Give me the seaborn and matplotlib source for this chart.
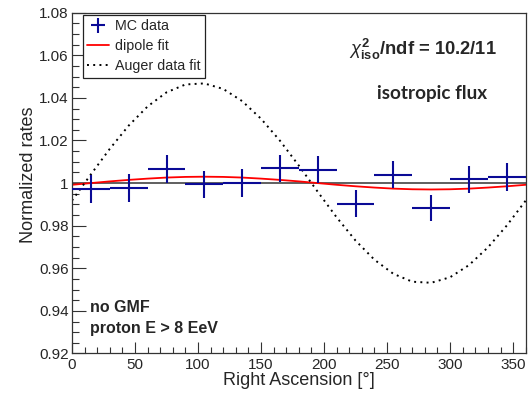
import numpy as np
import seaborn as sns
from matplotlib import pyplot as plt

# MC data: 12 bins of 30 deg in right ascension
ra_centers = [15, 45, 75, 105, 135, 165, 195, 225, 255, 285, 315, 345]
ra_halfwidth = [15] * 12
mc_rates = [0.9972, 0.9978, 1.0066, 0.9995, 1.0000, 1.0069,
            1.0062, 0.9904, 1.0040, 0.9883, 1.0017, 1.0028]
mc_errors = [0.0066, 0.0067, 0.0064, 0.0064, 0.0065, 0.0064,
             0.0063, 0.0063, 0.0063, 0.0063, 0.0065, 0.0064]

# fitted curves every 15 deg
ra_curve = [0, 15, 30, 45, 60, 75, 90, 105, 120, 135, 150, 165, 180,
            195, 210, 225, 240, 255, 270, 285, 300, 315, 330, 345, 360]
dipole_fit = [0.9992, 1.0000, 1.0008, 1.0015, 1.0021, 1.0026, 1.0029, 1.0030,
              1.0029, 1.0026, 1.0021, 1.0015, 1.0008, 1.0000, 0.9992, 0.9985,
              0.9979, 0.9974, 0.9971, 0.9970, 0.9971, 0.9974, 0.9979, 0.9985,
              0.9992]
auger_fit = [0.9918, 1.0041, 1.0161, 1.0270, 1.0360, 1.0426, 1.0463, 1.0468,
             1.0442, 1.0385, 1.0302, 1.0199, 1.0082, 0.9959, 0.9839, 0.9730,
             0.9640, 0.9574, 0.9537, 0.9532, 0.9558, 0.9615, 0.9698, 0.9801,
             0.9918]

sns.set_theme(style="ticks")
plt.rcParams['font.family'] = ['Liberation Sans', 'DejaVu Sans']
plt.rcParams['mathtext.fontset'] = 'custom'
plt.rcParams['mathtext.rm'] = 'Liberation Sans'
plt.rcParams['mathtext.it'] = 'Liberation Sans:italic'
plt.rcParams['mathtext.bf'] = 'Liberation Sans:bold'

fig = plt.figure(figsize=(5.29, 3.94), dpi=100)
ax = fig.add_axes([0.1361, 0.1028, 0.8577, 0.865])

ax.axhline(1.0, color='#444444', lw=1.2, zorder=1)

mc = ax.errorbar(ra_centers, mc_rates, xerr=ra_halfwidth, yerr=mc_errors,
                 fmt='none', ecolor='#0a0a96', elinewidth=1.5, capsize=0,
                 label='MC data', zorder=3)
sns.lineplot(x=ra_curve, y=dipole_fit, color='red', lw=1.3, ax=ax,
             label='dipole fit', zorder=2)
sns.lineplot(x=ra_curve, y=auger_fit, color='black', lw=1.4,
             linestyle=(0, (1, 2.2)), ax=ax, label='Auger data fit', zorder=2)

ax.set_xlim(0, 360)
ax.set_ylim(0.92, 1.08)
ax.set_xticks(np.arange(0, 351, 50))
ax.set_xticks(np.arange(0, 361, 10), minor=True)
ax.set_yticks(np.arange(0.92, 1.081, 0.02))
ax.set_yticks(np.arange(0.92, 1.081, 0.005), minor=True)
ax.set_yticklabels(['0.92', '0.94', '0.96', '0.98', '1', '1.02', '1.04', '1.06', '1.08'])

ax.tick_params(axis='both', which='both', direction='in', labelsize=11,
               top=False, right=False, color='#333333')
ax.tick_params(axis='y', which='major', length=10, width=0.8, pad=2.5)
ax.tick_params(axis='y', which='minor', length=5, width=0.8)
ax.tick_params(axis='x', which='major', length=8, width=0.8, pad=3)
ax.tick_params(axis='x', which='minor', length=4.5, width=0.8)
for sp in ax.spines.values():
    sp.set_color('#333333')
    sp.set_linewidth(0.9)

ax.set_xlabel('Right Ascension [°]', fontsize=13)
ax.set_ylabel('Normalized rates', fontsize=13)
ax.xaxis.set_label_coords(0.5, -0.055)
ax.yaxis.set_label_coords(-0.077, 0.524)

handles, labels = ax.get_legend_handles_labels()
order = [labels.index(l) for l in ['MC data', 'dipole fit', 'Auger data fit']]
leg = ax.legend([handles[i] for i in order], [labels[i] for i in order],
                loc='upper left', bbox_to_anchor=(0.024, 0.993), borderaxespad=0,
                fontsize=10.3, frameon=True, fancybox=False, framealpha=1,
                edgecolor='#222222', handlelength=1.5, handletextpad=0.45,
                labelspacing=0.42, borderpad=0.3)
leg.get_frame().set_linewidth(0.9)

ax.text(0.6105, 0.876, r'$\chi^{\mathbf{2}}_{\mathbf{iso}}$/ndf = 10.2/11', transform=ax.transAxes,
        fontsize=13.2, fontweight='bold', va='baseline', ha='left')
ax.text(0.6716, 0.748, 'isotropic flux', transform=ax.transAxes,
        fontsize=13.6, fontweight='bold', family=['Lato', 'DejaVu Sans'],
        va='baseline', ha='left')
ax.text(0.0397, 0.1227, 'no GMF', transform=ax.transAxes,
        fontsize=11.5, fontweight='bold', va='baseline', ha='left')
ax.text(0.0397, 0.060, 'proton E > 8 EeV', transform=ax.transAxes,
        fontsize=11.5, fontweight='bold', va='baseline', ha='left')

fig.savefig('out.png', dpi=100, facecolor='white')
